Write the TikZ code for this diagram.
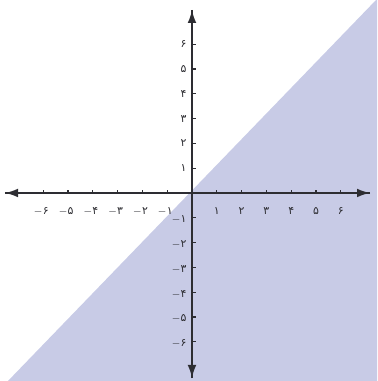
\documentclass[tikz,border=0pt]{standalone}
\usepackage{fontspec}
\newfontfamily\farsi[Script=Arabic]{DejaVu Sans}
\usetikzlibrary{arrows.meta}

\definecolor{halfplane}{RGB}{200,203,230}
\definecolor{axisgray}{RGB}{45,45,50}

\begin{document}
\begin{tikzpicture}[
    x=0.6cm, y=0.6cm,
    axis/.style={draw=axisgray, line width=1.2pt, -{Latex[length=9pt,width=6pt]}},
    tick/.style={draw=axisgray, line width=0.8pt},
    num/.style={font=\fontsize{7.5}{9}\selectfont, text=axisgray, inner sep=1pt}
]
\useasboundingbox (-7.74,-7.58) rectangle (7.46,7.78);

% ============== SHADED HALF PLANE ==============
\fill[halfplane] (-7.42,-7.58) -- (7.42,7.78) -- (7.46,7.78) -- (7.46,-7.58) -- cycle;

% ============== AXES ==============
\draw[axis] (7.18,0) -- (-7.54,0);
\draw[axis] (-7.54,0) -- (7.18,0);
\draw[axis] (0,-7.46) -- (0,7.38);
\draw[axis] (0,7.38) -- (0,-7.46);

% ============== TICKS AND LABELS ==============
\foreach \i/\d in {1/۱,2/۲,3/۳,4/۴,5/۵,6/۶} {
    \draw[tick] (\i,0) -- (\i,0.14);
    \draw[tick] (-\i,0) -- (-\i,0.14);
    \draw[tick] (0,\i) -- (0.18,\i);
    \draw[tick] (0,-\i) -- (0.18,-\i);
    \node[num] (xp\i) at (\i,-0.74) {\farsi\d};
    \node[num] (xm\i) at (-\i-0.08,-0.74) {$-${\farsi\d}};
    \node[num,anchor=east] (yp\i) at (-0.15,\i) {\farsi\d};
    \node[num,anchor=east] (ym\i) at (-0.15,-\i-0.08) {$-${\farsi\d}};
}

\end{tikzpicture}
\end{document}
